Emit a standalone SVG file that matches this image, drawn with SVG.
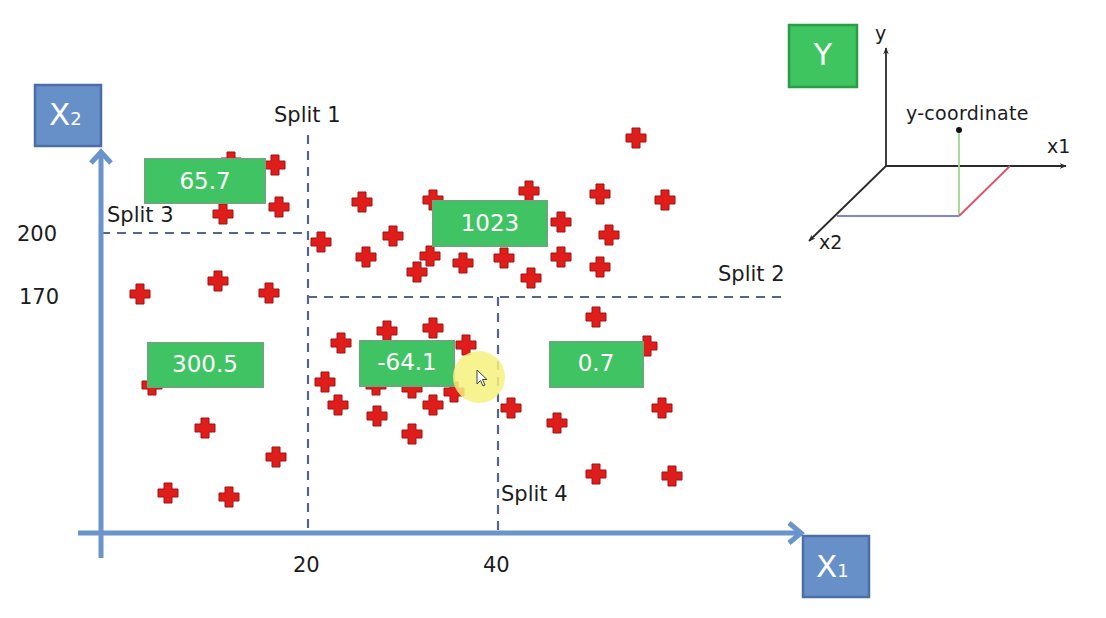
<svg xmlns="http://www.w3.org/2000/svg" xmlns:xlink="http://www.w3.org/1999/xlink" width="1106" height="618" viewBox="0 0 1106 618">
<style>
.lbl{font-family:"DejaVu Sans","Liberation Sans",sans-serif;fill:#1c1c1c;font-size:21px}
.val{font-family:"DejaVu Sans","Liberation Sans",sans-serif;fill:#ffffff;font-size:23px;text-anchor:middle}
.vbox{fill:#40c463;stroke:#62ad77;stroke-width:2}
.axbox{fill:#6890c8;stroke:#4a6ea5;stroke-width:2.5}
.axtxt{font-family:"DejaVu Sans","Liberation Sans",sans-serif;fill:#ffffff}
.axis{stroke:#6b94cb;stroke-width:5;fill:none}
.dash{stroke:#56668a;stroke-width:2.2;stroke-dasharray:9,7;fill:none}
.pt{fill:#df1d1b;stroke:#a11212;stroke-width:1}
.small{font-family:"DejaVu Sans","Liberation Sans",sans-serif;fill:#1c1c1c;font-size:19px}
.ax3{stroke:#2a2a2a;stroke-width:1.8;fill:none}
</style>
<defs>
<path id="plus" d="M-4,-10 h8 v6 h6 v8 h-6 v6 h-8 v-6 h-6 v-8 h6 z"/>
<marker id="ah" viewBox="0 0 10 10" refX="9" refY="5" markerWidth="7" markerHeight="7" orient="auto" markerUnits="userSpaceOnUse">
<path d="M0,1 L10,5 L0,9 L3,5 z" fill="#2a2a2a"/>
</marker>
</defs>
<rect width="1106" height="618" fill="#ffffff"/>

<g id="connectors">
<line class="dash" x1="308" y1="135" x2="308" y2="533"/>
<line class="dash" x1="101" y1="233" x2="308" y2="233"/>
<line class="dash" x1="308" y1="297" x2="785" y2="297"/>
<line class="dash" x1="498" y1="297" x2="498" y2="533"/>
</g>

<g id="points" class="pt">
<use xlink:href="#plus" x="231" y="162"/>
<use xlink:href="#plus" x="275" y="165"/>
<use xlink:href="#plus" x="223" y="214"/>
<use xlink:href="#plus" x="279" y="207"/>
<use xlink:href="#plus" x="140" y="294"/>
<use xlink:href="#plus" x="218" y="281"/>
<use xlink:href="#plus" x="269" y="293"/>
<use xlink:href="#plus" x="321" y="242"/>
<use xlink:href="#plus" x="152" y="385"/>
<use xlink:href="#plus" x="205" y="428"/>
<use xlink:href="#plus" x="276" y="457"/>
<use xlink:href="#plus" x="168" y="493"/>
<use xlink:href="#plus" x="229" y="497"/>
<use xlink:href="#plus" x="636" y="138"/>
<use xlink:href="#plus" x="362" y="202"/>
<use xlink:href="#plus" x="433" y="200"/>
<use xlink:href="#plus" x="529" y="191"/>
<use xlink:href="#plus" x="600" y="194"/>
<use xlink:href="#plus" x="665" y="200"/>
<use xlink:href="#plus" x="393" y="236"/>
<use xlink:href="#plus" x="561" y="222"/>
<use xlink:href="#plus" x="609" y="235"/>
<use xlink:href="#plus" x="366" y="257"/>
<use xlink:href="#plus" x="430" y="256"/>
<use xlink:href="#plus" x="463" y="263"/>
<use xlink:href="#plus" x="504" y="258"/>
<use xlink:href="#plus" x="561" y="257"/>
<use xlink:href="#plus" x="600" y="267"/>
<use xlink:href="#plus" x="417" y="272"/>
<use xlink:href="#plus" x="531" y="278"/>
<use xlink:href="#plus" x="341" y="343"/>
<use xlink:href="#plus" x="387" y="331"/>
<use xlink:href="#plus" x="433" y="328"/>
<use xlink:href="#plus" x="466" y="345"/>
<use xlink:href="#plus" x="325" y="382"/>
<use xlink:href="#plus" x="376" y="385"/>
<use xlink:href="#plus" x="412" y="388"/>
<use xlink:href="#plus" x="454" y="392"/>
<use xlink:href="#plus" x="338" y="405"/>
<use xlink:href="#plus" x="377" y="416"/>
<use xlink:href="#plus" x="433" y="405"/>
<use xlink:href="#plus" x="412" y="434"/>
<use xlink:href="#plus" x="596" y="317"/>
<use xlink:href="#plus" x="647" y="346"/>
<use xlink:href="#plus" x="511" y="408"/>
<use xlink:href="#plus" x="557" y="423"/>
<use xlink:href="#plus" x="662" y="408"/>
<use xlink:href="#plus" x="596" y="474"/>
<use xlink:href="#plus" x="672" y="476"/>
</g>

<g id="axes">
<line class="axis" x1="101" y1="153" x2="101" y2="558"/>
<polyline class="axis" points="91,163 101,152 111,163"/>
<line class="axis" x1="78" y1="533" x2="801" y2="533"/>
<polyline class="axis" points="789,523 801,533 789,543"/>
</g>

<g id="node-x2">
<rect class="axbox" x="35" y="85" width="66" height="61"/>
<text class="axtxt" x="49" y="125" font-size="31">X<tspan font-size="18">2</tspan></text>
</g>
<g id="node-x1">
<rect class="axbox" x="803" y="536" width="66" height="61"/>
<text class="axtxt" x="816" y="577" font-size="31">X<tspan font-size="18">1</tspan></text>
</g>

<g id="labels">
<text class="lbl" x="274" y="122">Split 1</text>
<text class="lbl" x="107" y="222">Split 3</text>
<text class="lbl" x="718" y="281">Split 2</text>
<text class="lbl" x="501" y="501">Split 4</text>
<text class="lbl" x="17" y="241">200</text>
<text class="lbl" x="19" y="304">170</text>
<text class="lbl" x="293" y="572">20</text>
<text class="lbl" x="483" y="572">40</text>
</g>

<g id="node-65-7"><rect class="vbox" x="145" y="159" width="120" height="44"/><text class="val" x="205" y="189">65.7</text></g>
<g id="node-1023"><rect class="vbox" x="433" y="201" width="114" height="45"/><text class="val" x="490" y="231">1023</text></g>
<g id="node-300-5"><rect class="vbox" x="148" y="343" width="115" height="44"/><text class="val" x="205" y="372">300.5</text></g>
<g id="node-64-1"><rect class="vbox" x="360" y="341" width="94" height="45"/><text class="val" x="407" y="370">-64.1</text></g>
<g id="node-0-7"><rect class="vbox" x="550" y="342" width="93" height="45"/><text class="val" x="596" y="371">0.7</text></g>

<g id="cursor">
<circle cx="479" cy="377" r="26" fill="#f6f17c" opacity="0.85"/>
<path d="M477,370 L477,384 L480.5,380.5 L483,386 L485,385 L482.5,379.5 L487,379.5 Z" fill="#ffffff" stroke="#444" stroke-width="1"/>
</g>

<g id="node-y">
<rect x="789" y="25" width="68" height="62" fill="#3ec55f" stroke="#2b9c47" stroke-width="2.5"/>
<text class="axtxt" x="823" y="65" font-size="30" text-anchor="middle">Y</text>
</g>

<g id="inset-3d">
<line class="ax3" x1="886" y1="166" x2="886" y2="48" marker-end="url(#ah)"/>
<line class="ax3" x1="886" y1="166" x2="1066" y2="166" marker-end="url(#ah)"/>
<line class="ax3" x1="886" y1="166" x2="809" y2="241" marker-end="url(#ah)"/>
<line x1="837" y1="216" x2="959" y2="216" stroke="#7f86d8" stroke-width="1.8"/>
<line x1="959" y1="216" x2="959" y2="130" stroke="#9fd88a" stroke-width="1.8"/>
<line x1="959" y1="216" x2="1010" y2="166" stroke="#e0506a" stroke-width="1.8"/>
<circle cx="959" cy="130" r="3" fill="#111"/>
<text class="small" x="906" y="120" letter-spacing="0.3">y-coordinate</text>
<text class="small" x="875" y="40">y</text>
<text class="small" x="1047" y="153">x1</text>
<text class="small" x="819" y="249">x2</text>
</g>
</svg>
